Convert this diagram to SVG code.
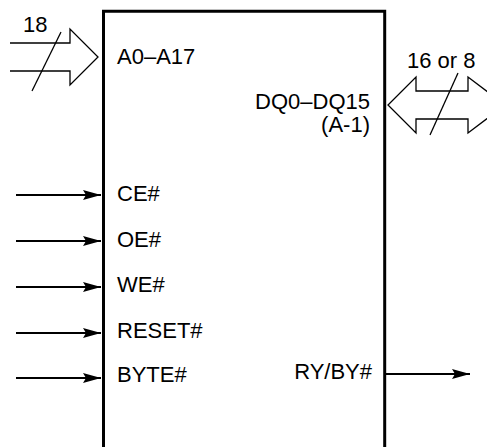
<svg xmlns="http://www.w3.org/2000/svg" width="487" height="447" viewBox="0 0 487 447">
<style>
text{font-family:"Liberation Sans",Arial,sans-serif;font-size:22px;fill:#000}
.r{text-anchor:end}
.box{fill:none;stroke:#000;stroke-width:3}
.bus{fill:none;stroke:#000;stroke-width:1.3;stroke-linejoin:miter}
.sig{stroke:#000;stroke-width:2;fill:none}
</style>
<defs>
<marker id="ah" markerWidth="20" markerHeight="12" refX="18" refY="5" orient="auto" markerUnits="userSpaceOnUse">
<path d="M0,0 L18,5 L0,10 L3,5 Z" fill="#000"/>
</marker>
</defs>
<g id="chip">
<path class="box" d="M103.5,447 V11.3 H384.7 V447"/>
<text x="117" y="64">A0–A17</text>
<text class="r" x="370" y="109">DQ0–DQ15</text>
<text class="r" x="370" y="132">(A-1)</text>
<text x="117" y="201">CE#</text>
<text x="117" y="247">OE#</text>
<text x="117" y="292">WE#</text>
<text x="117" y="338">RESET#</text>
<text x="117" y="382">BYTE#</text>
<text class="r" x="372" y="379">RY/BY#</text>
</g>
<g id="connectors">
<g id="addr-bus">
<path class="bus" d="M10,43 H70 V29 L98,57 L70,85 V71 H10"/>
<path class="bus" d="M32,91 L61,32"/>
<text x="23" y="32">18</text>
</g>
<g id="data-bus">
<path class="bus" d="M505,105 L468,77 V91 H416 V77 L388,105 L416,133 V119 H468 V133 L505,105"/>
<path class="bus" d="M430,135 L458,73"/>
<text x="407" y="68">16 or 8</text>
</g>
<line class="sig" x1="16" y1="195" x2="101" y2="195" marker-end="url(#ah)"/>
<line class="sig" x1="16" y1="241" x2="101" y2="241" marker-end="url(#ah)"/>
<line class="sig" x1="16" y1="287" x2="101" y2="287" marker-end="url(#ah)"/>
<line class="sig" x1="16" y1="333" x2="101" y2="333" marker-end="url(#ah)"/>
<line class="sig" x1="16" y1="378" x2="101" y2="378" marker-end="url(#ah)"/>
<line class="sig" x1="385" y1="374" x2="470" y2="374" marker-end="url(#ah)"/>
</g>
</svg>
